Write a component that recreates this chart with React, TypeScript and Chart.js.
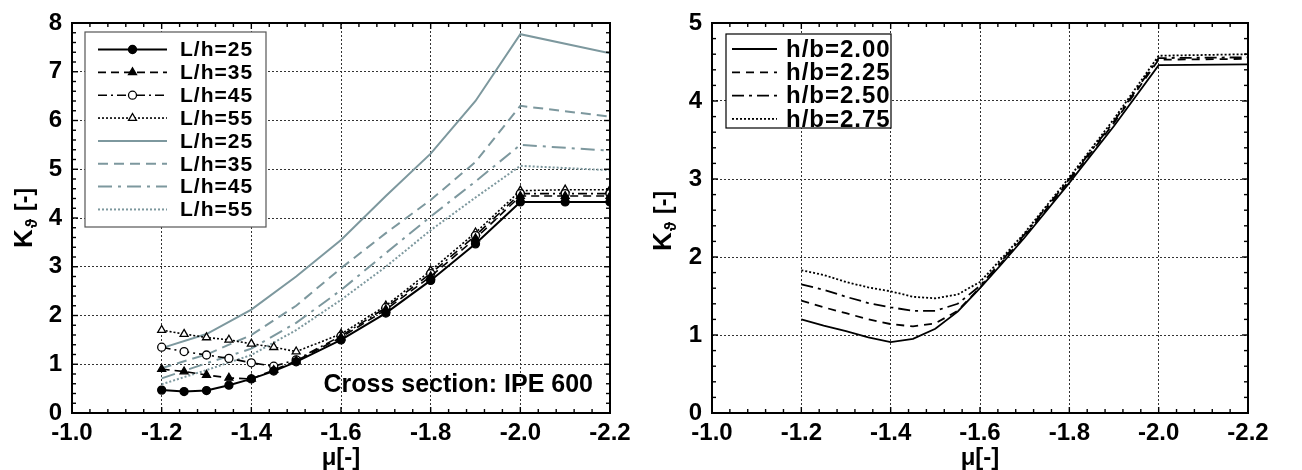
import React, { useEffect, useRef } from 'react';
import { Chart, registerables } from 'chart.js';

Chart.register(...registerables);

const FONT = "'Liberation Sans', Arial, Helvetica, sans-serif";

// ---------------- Left chart data ----------------
const muMarked = [-1.2, -1.25, -1.3, -1.35, -1.4, -1.45, -1.5, -1.6, -1.7, -1.8, -1.9, -2.0, -2.1, -2.2];
const kLh25 = [0.47, 0.44, 0.46, 0.57, 0.70, 0.86, 1.05, 1.50, 2.05, 2.72, 3.47, 4.33, 4.33, 4.33];
const kLh35 = [0.90, 0.85, 0.78, 0.72, 0.70, 0.88, 1.07, 1.55, 2.12, 2.80, 3.58, 4.45, 4.45, 4.45];
const kLh45 = [1.35, 1.26, 1.19, 1.12, 1.03, 0.96, 1.09, 1.58, 2.16, 2.86, 3.64, 4.50, 4.50, 4.50];
const kLh55 = [1.70, 1.62, 1.55, 1.50, 1.42, 1.35, 1.26, 1.62, 2.20, 2.92, 3.70, 4.56, 4.58, 4.58];

const muGrey = [-1.2, -1.3, -1.4, -1.5, -1.6, -1.7, -1.8, -1.9, -2.0, -2.2];
const gLh25 = [1.33, 1.62, 2.12, 2.80, 3.55, 4.45, 5.32, 6.40, 7.77, 7.38];
const gLh35 = [0.92, 1.20, 1.60, 2.20, 2.97, 3.69, 4.37, 5.15, 6.30, 6.08];
const gLh45 = [0.71, 1.02, 1.32, 1.85, 2.52, 3.28, 4.03, 4.75, 5.50, 5.38];
const gLh55 = [0.59, 0.88, 1.19, 1.70, 2.32, 3.00, 3.75, 4.42, 5.07, 4.98];

const leftLegendLabels = ['L/h=25', 'L/h=35', 'L/h=45', 'L/h=55', 'L/h=25', 'L/h=35', 'L/h=45', 'L/h=55'];
const leftNote = 'Cross section: IPE 600';

// ---------------- Right chart data ----------------
const muRight = [-1.2, -1.25, -1.3, -1.35, -1.4, -1.45, -1.5, -1.55, -1.6, -1.65, -1.7, -1.8, -1.9, -2.0, -2.2];
const hb200 = [1.20, 1.12, 1.05, 0.97, 0.91, 0.95, 1.08, 1.30, 1.60, 1.92, 2.25, 2.95, 3.68, 4.46, 4.47];
const hb225 = [1.44, 1.355, 1.28, 1.20, 1.14, 1.11, 1.15, 1.31, 1.61, 1.94, 2.27, 2.98, 3.72, 4.53, 4.54];
const hb250 = [1.65, 1.58, 1.49, 1.41, 1.355, 1.31, 1.31, 1.40, 1.63, 1.96, 2.29, 3.00, 3.74, 4.55, 4.56];
const hb275 = [1.83, 1.77, 1.68, 1.61, 1.56, 1.49, 1.47, 1.52, 1.68, 1.99, 2.31, 3.02, 3.77, 4.58, 4.60];

const rightLegendLabels = ['h/b=2.00', 'h/b=2.25', 'h/b=2.50', 'h/b=2.75'];

// ---------------- Axes ----------------
const xTickValues = [-1.0, -1.2, -1.4, -1.6, -1.8, -2.0, -2.2];
const xTickLabels = ['-1.0', '-1.2', '-1.4', '-1.6', '-1.8', '-2.0', '-2.2'];
const leftYTickValues = [0, 1, 2, 3, 4, 5, 6, 7, 8];
const leftYTickLabels = ['0', '1', '2', '3', '4', '5', '6', '7', '8'];
const rightYTickValues = [0, 1, 2, 3, 4, 5];
const rightYTickLabels = ['0', '1', '2', '3', '4', '5'];
const xTitle = 'μ[-]';
const yTitleMain = 'K';
const yTitleSub = 'ϑ';
const yTitleUnit = '[-]';

const GREY = '#7d989e';

type SeriesDef = {
  label: string;
  xs: number[];
  ys: number[];
  color: string;
  dash: number[];
  width: number;
  marker?: 'circle' | 'triangle';
  filled?: boolean;
};

const leftSeries: SeriesDef[] = [
  { label: leftLegendLabels[0], xs: muMarked, ys: kLh25, color: '#000', dash: [], width: 2, marker: 'circle', filled: true },
  { label: leftLegendLabels[1], xs: muMarked, ys: kLh35, color: '#000', dash: [8, 5], width: 1.6, marker: 'triangle', filled: true },
  { label: leftLegendLabels[2], xs: muMarked, ys: kLh45, color: '#000', dash: [9, 4, 2, 4], width: 1.6, marker: 'circle', filled: false },
  { label: leftLegendLabels[3], xs: muMarked, ys: kLh55, color: '#000', dash: [2, 2], width: 1.6, marker: 'triangle', filled: false },
  { label: leftLegendLabels[4], xs: muGrey, ys: gLh25, color: GREY, dash: [], width: 2 },
  { label: leftLegendLabels[5], xs: muGrey, ys: gLh35, color: GREY, dash: [10, 6], width: 2 },
  { label: leftLegendLabels[6], xs: muGrey, ys: gLh45, color: GREY, dash: [14, 6, 3, 6], width: 2 },
  { label: leftLegendLabels[7], xs: muGrey, ys: gLh55, color: GREY, dash: [2, 2], width: 2 },
];

const rightSeries: SeriesDef[] = [
  { label: rightLegendLabels[0], xs: muRight, ys: hb200, color: '#000', dash: [], width: 1.8 },
  { label: rightLegendLabels[1], xs: muRight, ys: hb225, color: '#000', dash: [8, 6], width: 1.8 },
  { label: rightLegendLabels[2], xs: muRight, ys: hb250, color: '#000', dash: [12, 5, 3, 5], width: 1.8 },
  { label: rightLegendLabels[3], xs: muRight, ys: hb275, color: '#000', dash: [2, 2], width: 1.8 },
];

type LegendSpec = {
  x0: number; y0: number; x1: number; y1: number;
  lineX0: number; lineX1: number; textX: number;
  rowY0: number; rowStep: number; fontSize: number; border: string;
};

type PanelSpec = {
  left: number;
  width: number;
  plotLeft: number;
  plotRight: number;
  plotTop: number;
  plotBottom: number;
  yMax: number;
  yTicks: number[];
  yLabels: string[];
  series: SeriesDef[];
  legend: LegendSpec;
  yTitleBaseX: number;
  yTitleBottom: number;
  xTitleX: number;
  xTitleBase: number;
  note?: { text: string; x: number; y: number };
};

const leftPanel: PanelSpec = {
  left: 0, width: 650, plotLeft: 72, plotRight: 610, plotTop: 23, plotBottom: 413,
  yMax: 8, yTicks: leftYTickValues, yLabels: leftYTickLabels, series: leftSeries,
  legend: { x0: 85, y0: 32, x1: 266, y1: 227, lineX0: 98, lineX1: 167, textX: 180, rowY0: 49.5, rowStep: 22.85, fontSize: 21, border: '#555' },
  yTitleBaseX: 32, yTitleBottom: 248, xTitleX: 341, xTitleBase: 465,
  note: { text: leftNote, x: 593, y: 392 },
};

const rightPanel: PanelSpec = {
  left: 650, width: 652, plotLeft: 712, plotRight: 1248, plotTop: 23, plotBottom: 413,
  yMax: 5, yTicks: rightYTickValues, yLabels: rightYTickLabels, series: rightSeries,
  legend: { x0: 726, y0: 34, x1: 891, y1: 128, lineX0: 732, lineX1: 777, textX: 786, rowY0: 49, rowStep: 23.3, fontSize: 24, border: '#000' },
  yTitleBaseX: 671, yTitleBottom: 251, xTitleX: 980, xTitleBase: 465,
};

function drawMarker(ctx: CanvasRenderingContext2D, style: string, x: number, y: number, filled: boolean) {
  ctx.save();
  ctx.setLineDash([]);
  ctx.beginPath();
  if (style === 'circle') {
    ctx.arc(x, y, 4, 0, Math.PI * 2);
  } else {
    const r = 4.6;
    ctx.moveTo(x, y - r);
    ctx.lineTo(x + r * 0.866, y + r * 0.5);
    ctx.lineTo(x - r * 0.866, y + r * 0.5);
    ctx.closePath();
  }
  ctx.fillStyle = filled ? '#000' : '#fff';
  ctx.fill();
  ctx.lineWidth = 1.3;
  ctx.strokeStyle = '#000';
  ctx.stroke();
  ctx.restore();
}

function makePlugin(p: PanelSpec) {
  return {
    id: 'decor',
    afterDraw(chart: any) {
      const ctx: CanvasRenderingContext2D = chart.ctx;
      const ca = chart.chartArea;
      const xs = chart.scales.x;
      const ys = chart.scales.y;
      const off = p.left;
      ctx.save();
      ctx.setLineDash([]);
      ctx.strokeStyle = '#000';
      ctx.lineWidth = 1.4;
      const line = (a: number, b: number, c: number, d: number) => {
        ctx.beginPath();
        ctx.moveTo(a, b);
        ctx.lineTo(c, d);
        ctx.stroke();
      };
      // minor / major ticks, inward on all sides
      for (let i = 0; i <= 30; i++) {
        const v = -1.0 - 0.04 * i;
        const px = xs.getPixelForValue(v);
        const len = i % 5 === 0 ? 6 : 4;
        line(px, ca.bottom, px, ca.bottom - len);
        line(px, ca.top, px, ca.top + len);
      }
      for (let i = 0; i <= p.yMax * 5; i++) {
        const v = i * 0.2;
        const py = ys.getPixelForValue(v);
        const len = i % 5 === 0 ? 6 : 4;
        line(ca.left, py, ca.left + len, py);
        line(ca.right, py, ca.right - len, py);
      }
      // frame
      ctx.lineWidth = 2;
      ctx.strokeRect(ca.left, ca.top, ca.right - ca.left, ca.bottom - ca.top);

      // legend
      const L = p.legend;
      ctx.fillStyle = '#fff';
      ctx.fillRect(L.x0 - off, L.y0, L.x1 - L.x0, L.y1 - L.y0);
      ctx.lineWidth = 1.2;
      ctx.strokeStyle = L.border;
      ctx.strokeRect(L.x0 - off, L.y0, L.x1 - L.x0, L.y1 - L.y0);
      ctx.font = `bold ${L.fontSize}px ${FONT}`;
      ctx.textBaseline = 'middle';
      ctx.textAlign = 'left';
      p.series.forEach((s, i) => {
        const y = L.rowY0 + i * L.rowStep;
        ctx.save();
        ctx.strokeStyle = s.color;
        ctx.lineWidth = s.width;
        ctx.setLineDash(s.dash);
        ctx.beginPath();
        ctx.moveTo(L.lineX0 - off, y);
        ctx.lineTo(L.lineX1 - off, y);
        ctx.stroke();
        ctx.restore();
        if (s.marker) drawMarker(ctx, s.marker, (L.lineX0 + L.lineX1) / 2 - off, y, !!s.filled);
        ctx.fillStyle = '#000';
        (ctx as any).letterSpacing = '1px';
        ctx.fillText(s.label, L.textX - off, y + 1);
        (ctx as any).letterSpacing = '0px';
      });

      // note
      if (p.note) {
        ctx.font = `bold 25px ${FONT}`;
        ctx.textAlign = 'right';
        ctx.textBaseline = 'alphabetic';
        ctx.fillStyle = '#000';
        ctx.fillText(p.note.text, p.note.x - off, p.note.y);
      }

      // x title
      ctx.font = `bold 24px ${FONT}`;
      ctx.textAlign = 'center';
      ctx.textBaseline = 'alphabetic';
      ctx.fillStyle = '#000';
      ctx.fillText(xTitle, p.xTitleX - off, p.xTitleBase);

      // y title (rotated)
      ctx.save();
      ctx.translate(p.yTitleBaseX - off, p.yTitleBottom);
      ctx.rotate(-Math.PI / 2);
      ctx.textAlign = 'left';
      ctx.textBaseline = 'alphabetic';
      ctx.font = `bold 26px ${FONT}`;
      ctx.fillText(yTitleMain, 0, 0);
      const kw = ctx.measureText(yTitleMain).width;
      ctx.font = `bold 16px ${FONT}`;
      ctx.fillText(yTitleSub, kw + 1, 5);
      const sw = ctx.measureText(yTitleSub).width;
      ctx.font = `bold 23px ${FONT}`;
      ctx.fillText(yTitleUnit, kw + sw + 9, 0);
      ctx.restore();

      ctx.restore();
    },
  };
}

function buildConfig(p: PanelSpec): any {
  const tickFont = { family: FONT, size: 24, weight: 'bold' as const };
  return {
    type: 'line',
    data: {
      datasets: p.series.map((s) => ({
        label: s.label,
        data: s.xs.map((x, i) => ({ x, y: s.ys[i] })),
        borderColor: s.color,
        borderWidth: s.width,
        borderDash: s.dash,
        fill: false,
        tension: 0,
        pointRadius: s.marker ? (s.marker === 'triangle' ? 4.6 : 4) : 0,
        pointStyle: s.marker || 'circle',
        pointBackgroundColor: s.filled ? '#000' : '#fff',
        pointBorderColor: '#000',
        pointBorderWidth: 1.3,
      })),
    },
    options: {
      animation: false,
      responsive: false,
      devicePixelRatio: 1,
      events: [],
      layout: { padding: { top: p.plotTop, right: p.left + p.width - p.plotRight, left: 0, bottom: 0 } },
      plugins: { legend: { display: false }, tooltip: { enabled: false }, title: { display: false } },
      scales: {
        x: {
          type: 'linear',
          reverse: true,
          min: -2.2,
          max: -1.0,
          afterBuildTicks: (s: any) => {
            s.ticks = xTickValues.map((v) => ({ value: v }));
          },
          afterFit: (s: any) => {
            s.height = 470 - p.plotBottom;
            s.paddingLeft = 0;
            s.paddingRight = 0;
          },
          ticks: {
            callback: (_v: any, i: number) => xTickLabels[i],
            font: tickFont,
            color: '#000',
            padding: 6,
            maxRotation: 0,
            autoSkip: false,
          },
          grid: { color: '#333', lineWidth: 1, drawTicks: false },
          border: { display: false, dash: [2, 2] },
        },
        y: {
          type: 'linear',
          min: 0,
          max: p.yMax,
          afterBuildTicks: (s: any) => {
            s.ticks = p.yTicks.map((v) => ({ value: v }));
          },
          afterFit: (s: any) => {
            s.width = p.plotLeft - p.left;
            s.paddingTop = 0;
            s.paddingBottom = 0;
          },
          ticks: {
            callback: (_v: any, i: number) => p.yLabels[i],
            font: tickFont,
            color: '#000',
            padding: 10,
            autoSkip: false,
          },
          grid: { color: '#333', lineWidth: 1, drawTicks: false },
          border: { display: false, dash: [2, 2] },
        },
      },
    },
    plugins: [makePlugin(p)],
  };
}

function Panel({ spec }: { spec: PanelSpec }) {
  const ref = useRef<HTMLCanvasElement>(null);
  useEffect(() => {
    const chart = new Chart(ref.current as HTMLCanvasElement, buildConfig(spec));
    return () => chart.destroy();
  }, [spec]);
  return (
    <canvas
      ref={ref}
      width={spec.width}
      height={470}
      style={{ position: 'absolute', left: spec.left, top: 0, width: spec.width, height: 470, display: 'block' }}
    />
  );
}

export default function App() {
  return (
    <div style={{ position: 'fixed', left: 0, top: 0, width: 1302, height: 470, background: '#fff', overflow: 'hidden' }}>
      <Panel spec={leftPanel} />
      <Panel spec={rightPanel} />
    </div>
  );
}
